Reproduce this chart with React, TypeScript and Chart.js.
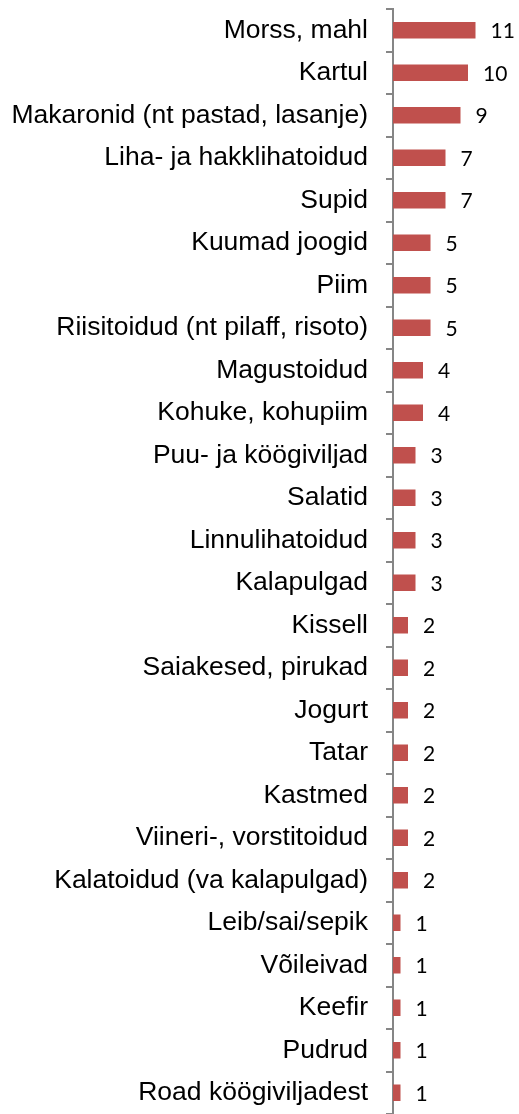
import React, { useEffect, useRef } from "react";
import { Chart, registerables } from "chart.js";

Chart.register(...registerables);

const categories: string[] = [
  "Morss, mahl",
  "Kartul",
  "Makaronid (nt pastad, lasanje)",
  "Liha- ja hakklihatoidud",
  "Supid",
  "Kuumad joogid",
  "Piim",
  "Riisitoidud (nt pilaff, risoto)",
  "Magustoidud",
  "Kohuke, kohupiim",
  "Puu- ja köögiviljad",
  "Salatid",
  "Linnulihatoidud",
  "Kalapulgad",
  "Kissell",
  "Saiakesed, pirukad",
  "Jogurt",
  "Tatar",
  "Kastmed",
  "Viineri-, vorstitoidud",
  "Kalatoidud (va kalapulgad)",
  "Leib/sai/sepik",
  "Võileivad",
  "Keefir",
  "Pudrud",
  "Road köögiviljadest",
];

const values: number[] = [11, 10, 9, 7, 7, 5, 5, 5, 4, 4, 3, 3, 3, 3, 2, 2, 2, 2, 2, 2, 2, 1, 1, 1, 1, 1];

const valueLabelPlugin = {
  id: "valueLabels",
  afterDatasetsDraw(chart: any) {
    const ctx = chart.ctx;
    const meta = chart.getDatasetMeta(0);
    ctx.save();
    ctx.fillStyle = "#000000";
    ctx.font = "21px Lato, 'Open Sans', sans-serif";
    ctx.textAlign = "left";
    ctx.textBaseline = "middle";
    meta.data.forEach((bar: any, i: number) => {
      ctx.fillText(String(values[i]), bar.x + 15, bar.y + 1);
    });
    ctx.restore();
  },
};

export default function App() {
  const ref = useRef<HTMLCanvasElement | null>(null);

  useEffect(() => {
    document.documentElement.style.overflow = "hidden";
    const canvas = ref.current;
    if (!canvas) return;
    const chart = new Chart(canvas, {
      type: "bar",
      data: {
        labels: categories,
        datasets: [
          {
            data: values,
            backgroundColor: "#C0504D",
            borderWidth: 0,
            barPercentage: 0.392,
            categoryPercentage: 1,
          },
        ],
      },
      options: {
        indexAxis: "y",
        animation: false,
        responsive: false,
        maintainAspectRatio: false,
        layout: { padding: { top: 9, right: 13.5, bottom: 0, left: 0 } },
        plugins: {
          legend: { display: false },
          tooltip: { enabled: false },
        },
        scales: {
          x: {
            display: false,
            min: 0,
            max: 15,
          },
          y: {
            afterFit(scale: any) {
              scale.width = 393;
              scale.paddingTop = 0;
              scale.paddingBottom = 0;
            },
            grid: {
              display: true,
              drawOnChartArea: false,
              drawTicks: true,
              tickLength: 7,
              color: "#868686",
              lineWidth: 2,
              offset: true,
            },
            border: { display: true, color: "#868686", width: 2 },
            ticks: {
              color: "#000000",
              padding: 18,
              autoSkip: false,
              font: { family: "'Liberation Sans', Arial, sans-serif", size: 26.5 },
            },
          },
        },
      },
      plugins: [valueLabelPlugin],
    });
    return () => chart.destroy();
  }, []);

  return (
    <div style={{ position: "absolute", left: 0, top: 0, width: 519, height: 1114 }}>
      <canvas ref={ref} width={519} height={1114} style={{ display: "block" }} />
    </div>
  );
}
